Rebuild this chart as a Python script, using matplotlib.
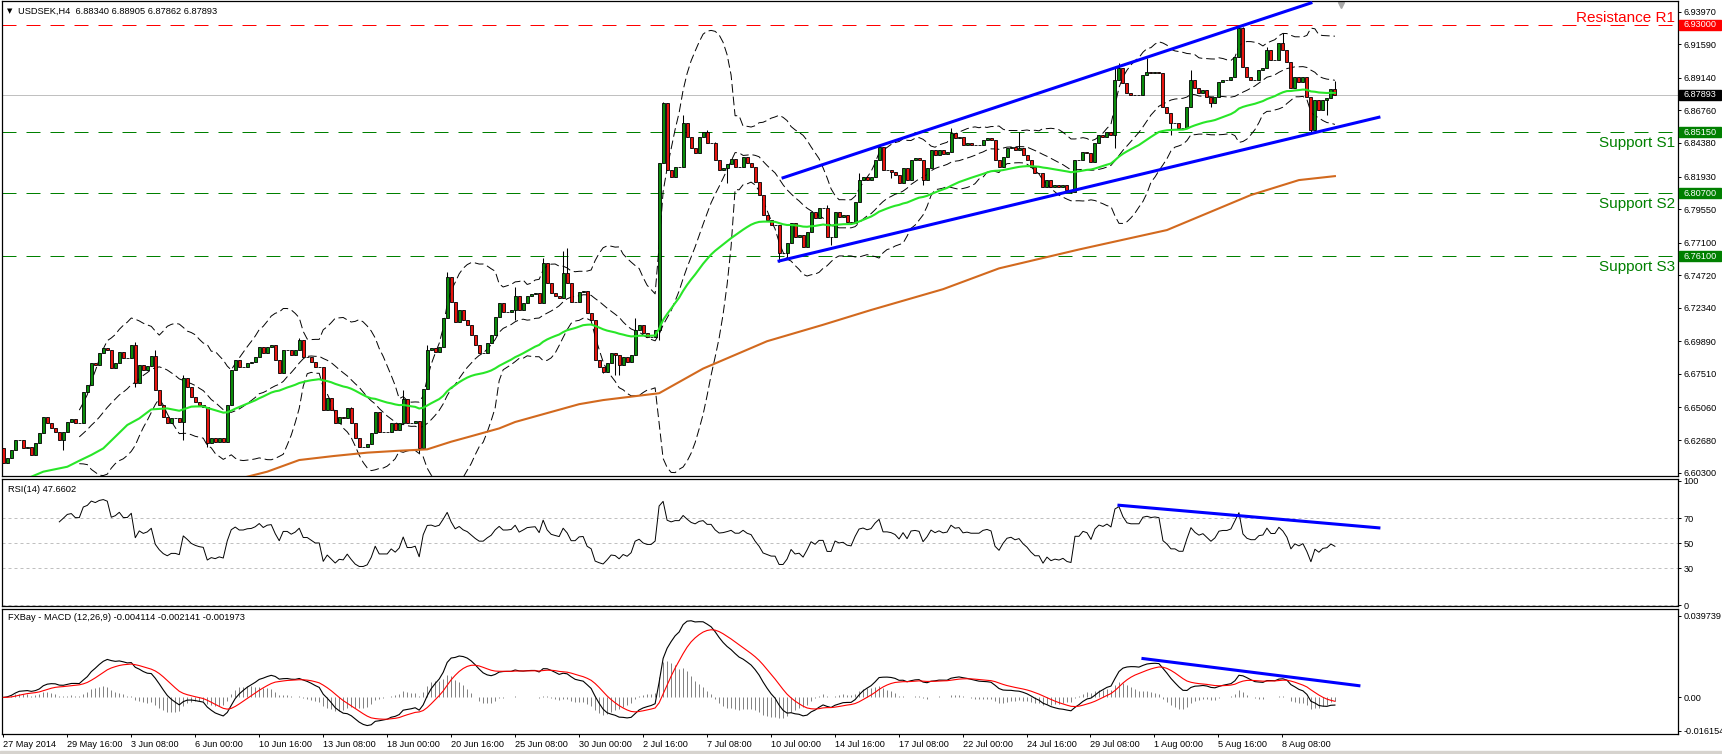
import numpy as np
import pandas as pd
import matplotlib
matplotlib.use("Agg")
import matplotlib.pyplot as plt
import matplotlib.transforms as mtransforms
from matplotlib.patches import Rectangle

plt.rcParams['font.family'] = ['Liberation Sans', 'DejaVu Sans']

# USDSEK H4 closes
closes = [
    6.6098, 6.6134, 6.6195, 6.6268, 6.6268, 6.6207, 6.6220, 6.6160, 6.6244, 6.6317,
    6.6439, 6.6390, 6.6353, 6.6329, 6.6268, 6.6329, 6.6402, 6.6419, 6.6390, 6.6390,
    6.6621, 6.6670, 6.6828, 6.6816, 6.6901, 6.6938, 6.6926, 6.6792, 6.6828, 6.6913,
    6.6865, 6.6865, 6.6962, 6.6682, 6.6816, 6.6780, 6.6809, 6.6882, 6.6633, 6.6524,
    6.6439, 6.6390, 6.6426, 6.6426, 6.6402, 6.6719, 6.6658, 6.6585, 6.6548, 6.6524,
    6.6512, 6.6244, 6.6280, 6.6256, 6.6280, 6.6256, 6.6524, 6.6779, 6.6853, 6.6804,
    6.6804, 6.6833, 6.6840, 6.6877, 6.6950, 6.6901, 6.6950, 6.6962, 6.6853, 6.6755,
    6.6926, 6.6926, 6.6889, 6.6926, 6.6999, 6.6877, 6.6877, 6.6840, 6.6804, 6.6804,
    6.6487, 6.6572, 6.6487, 6.6390, 6.6439, 6.6426, 6.6500, 6.6390, 6.6280, 6.6219,
    6.6219, 6.6237, 6.6322, 6.6475, 6.6329, 6.6329, 6.6329, 6.6395, 6.6341, 6.6395,
    6.6565, 6.6390, 6.6390, 6.6410, 6.6207, 6.6638, 6.6926, 6.6938, 6.6913, 6.6950,
    6.7157, 6.7461, 6.7279, 6.7132, 6.7218, 6.7145, 6.7108, 6.7035, 6.6962, 6.6901,
    6.6901, 6.6974, 6.7035, 6.7169, 6.7266, 6.7205, 6.7206, 6.7218, 6.7320, 6.7218,
    6.7266, 6.7320, 6.7332, 6.7340, 6.7266, 6.7559, 6.7413, 6.7340, 6.7320, 6.7303,
    6.7486, 6.7413, 6.7278, 6.7278, 6.7352, 6.7359, 6.7193, 6.7145, 6.6852, 6.6804,
    6.6767, 6.6828, 6.6901, 6.6889, 6.6816, 6.6877, 6.6840, 6.6889, 6.7072, 6.7108,
    6.7047, 6.7023, 6.7023, 6.7072, 6.8289, 6.8728, 6.8240, 6.8190, 6.8266, 6.8265,
    6.8581, 6.8484, 6.8399, 6.8362, 6.8484, 6.8520, 6.8435, 6.8435, 6.8314, 6.8240,
    6.8253, 6.8284, 6.8320, 6.8266, 6.8266, 6.8338, 6.8289, 6.8266, 6.8155, 6.8058,
    6.7912, 6.7875, 6.7840, 6.7838, 6.7632, 6.7632, 6.7705, 6.7851, 6.7754, 6.7766,
    6.7681, 6.7790, 6.7936, 6.7888, 6.7961, 6.7961, 6.7754, 6.7754, 6.7936, 6.7900,
    6.7912, 6.7863, 6.7851, 6.8010, 6.8168, 6.8192, 6.8168, 6.8192, 6.8314, 6.8411,
    6.8240, 6.8240, 6.8229, 6.8204, 6.8143, 6.8253, 6.8168, 6.8314, 6.8326, 6.8314,
    6.8168, 6.8253, 6.8387, 6.8350, 6.8387, 6.8360, 6.8374, 6.8508, 6.8472, 6.8484,
    6.8423, 6.8435, 6.8423, 6.8423, 6.8423, 6.8460, 6.8472, 6.8460, 6.8314, 6.8265,
    6.8338, 6.8399, 6.8411, 6.8386, 6.8399, 6.8350, 6.8314, 6.8260, 6.8216, 6.8216,
    6.8119, 6.8167, 6.8119, 6.8131, 6.8119, 6.8131, 6.8094, 6.8082, 6.8313, 6.8313,
    6.8374, 6.8362, 6.8301, 6.8435, 6.8496, 6.8484, 6.8520, 6.8496, 6.8898, 6.8983,
    6.8873, 6.8800, 6.8788, 6.8788, 6.8788, 6.8934, 6.8958, 6.8946, 6.8958, 6.8952,
    6.8703, 6.8654, 6.8581, 6.8581, 6.8545, 6.8545, 6.8703, 6.8898, 6.8837, 6.8800,
    6.8825, 6.8776, 6.8727, 6.8776, 6.8885, 6.8898, 6.8898, 6.8922, 6.9068, 6.9275,
    6.8995, 6.8922, 6.8898, 6.8898, 6.8971, 6.8983, 6.9117, 6.9044, 6.9044, 6.9166,
    6.9117, 6.9032, 6.8837, 6.8922, 6.8885, 6.8922, 6.8776, 6.8532, 6.8752, 6.8678,
    6.8752, 6.8764, 6.8834, 6.87893,
]
first_open = 6.6207
last_open = 6.88340

# wick ends that stand out on the chart (bar index -> price)
highs_seen = {33: 6.6986, 38: 6.6926, 45: 6.6743, 74: 6.7011, 87: 6.6512, 100: 6.6633,
              106: 6.6962, 111: 6.7498, 128: 6.7388, 135: 6.7595, 140: 6.7651, 141: 6.7668,
              158: 6.7157, 165: 6.8740, 170: 6.8642, 176: 6.8533, 178: 6.8448, 206: 6.7985,
              214: 6.8216, 219: 6.8423, 237: 6.8545, 254: 6.8520, 278: 6.8983, 279: 6.9020,
              286: 6.9056, 297: 6.8971, 309: 6.9287, 310: 6.9287, 316: 6.9141, 320: 6.9239,
              333: 6.88905}
lows_seen = {15: 6.6195, 33: 6.6658, 45: 6.6268, 51: 6.6219, 104: 6.6171, 128: 6.7145,
             150: 6.6755, 153: 6.6743, 154: 6.6743, 164: 6.6998, 181: 6.8143, 194: 6.7571,
             196: 6.7595, 207: 6.7693, 222: 6.8180, 230: 6.8131, 267: 6.8070, 278: 6.8398,
             292: 6.8496, 302: 6.8703, 327: 6.8520, 328: 6.8520, 331: 6.8642, 333: 6.87862}

# 200 MA read as points (the chart has no history for it); 50 EMA start read as points
ma200_bar = [61, 66, 74, 82.5, 91, 99, 106, 112, 116, 124, 128, 144, 150, 164, 175,
             191, 205, 217, 235, 249, 269, 291, 312, 324, 333]
ma200_val = [6.6000, 6.6037, 6.6122, 6.6151, 6.6176, 6.6190, 6.6200, 6.6256, 6.6288,
             6.6353, 6.6400, 6.6530, 6.6560, 6.6610, 6.6790, 6.6990, 6.7110, 6.7218,
             6.7370, 6.7522, 6.7660, 6.7802, 6.8058, 6.8167, 6.8196]
ma50_early_bar = [7, 10, 16, 19, 22, 25, 28, 31, 34, 37, 41, 44, 47]
ma50_early_val = [6.6000, 6.6037, 6.6073, 6.6117, 6.6159, 6.6207, 6.6292, 6.6378,
                  6.6426, 6.6492, 6.6499, 6.6482, 6.6512]

res_levels = [6.9300]
res_names = ["Resistance R1"]
sup_levels = [6.8515, 6.8070, 6.7610]
sup_names = ["Support S1", "Support S2", "Support S3"]

chan_top_bar, chan_top_val = [195, 327], [6.8184, 6.9461]
chan_bot_bar, chan_bot_val = [194, 344], [6.7576, 6.8626]
rsi_line_bar, rsi_line_val = [279, 344], [80.5, 62.3]
macd_line_bar, macd_line_val = [285, 339], [0.0189, 0.0057]

price_ticks = [6.93970, 6.91590, 6.89140, 6.86760, 6.84380, 6.81930, 6.79550, 6.77100,
               6.74720, 6.72340, 6.69890, 6.67510, 6.65060, 6.62680, 6.60300]
rsi_ticks = [100, 70, 50, 30, 0]
macd_ticks = [0.039739, 0.0, -0.016154]
macd_tick_labels = ["0.039739", "0.00", "-0.016154"]
date_labels = ["27 May 2014", "29 May 16:00", "3 Jun 08:00", "6 Jun 00:00", "10 Jun 16:00",
               "13 Jun 08:00", "18 Jun 00:00", "20 Jun 16:00", "25 Jun 08:00", "30 Jun 00:00",
               "2 Jul 16:00", "7 Jul 08:00", "10 Jul 00:00", "14 Jul 16:00", "17 Jul 08:00",
               "22 Jul 00:00", "24 Jul 16:00", "29 Jul 08:00", "1 Aug 00:00", "5 Aug 16:00",
               "8 Aug 08:00"]
bars_per_label = 16
rsi_text = "RSI(14) 47.6602"
macd_text = "FXBay - MACD (12,26,9) -0.004114 -0.002141 -0.001973"

# ---- build OHLC and indicators ----
c = np.array(closes)
n = len(c)
o = np.r_[first_open, c[:-1]]
o[-1] = last_open
h = np.maximum(o, c)
l = np.minimum(o, c)
for k, v in highs_seen.items():
    h[k] = max(h[k], v)
for k, v in lows_seen.items():
    l[k] = min(l[k], v)
x = np.arange(n)
s = pd.Series(c)

# Bollinger bands 20, 2
mid = s.rolling(20).mean()
sd = s.rolling(20).std(ddof=0)

# 50 EMA, carried on from the last read point
alpha = 2 / 51
ema_x = list(ma50_early_bar)
ema_y = list(ma50_early_val)
e = ma50_early_val[-1]
for i in range(ma50_early_bar[-1] + 1, n):
    e = e + alpha * (c[i] - e)
    ema_x.append(i)
    ema_y.append(e)

delta = s.diff()
gain = delta.clip(lower=0).ewm(alpha=1 / 14, adjust=False).mean()
loss = (-delta.clip(upper=0)).ewm(alpha=1 / 14, adjust=False).mean()
rsi = 100 - 100 / (1 + gain / loss)

macd = s.ewm(span=12, adjust=False).mean() - s.ewm(span=26, adjust=False).mean()
signal = macd.ewm(span=9, adjust=False).mean()
hist = macd - signal

# ---- layout (pixel boxes of the three panels) ----
W, H = 1722, 754
fig = plt.figure(figsize=(W / 100, H / 100), dpi=100)
fig.patch.set_facecolor("white")


def box(top, bottom):
    return [2 / W, 1 - bottom / H, 1676 / W, (bottom - top) / H]


ax1 = fig.add_axes(box(1, 476))
ax2 = fig.add_axes(box(479, 605.7), sharex=ax1)
ax3 = fig.add_axes(box(608.7, 734), sharex=ax1)

GREEN = "#0a8c0a"
RED = "#e8140e"
DASH = (0, (14, 10))
BB_DASH = (0, (9, 4))

# price panel
for v in res_levels:
    ax1.axhline(v, color="#ff0000", lw=0.72, ls=DASH, zorder=1)
for v in sup_levels:
    ax1.axhline(v, color="#008000", lw=0.72, ls=DASH, zorder=1)
ax1.axhline(c[-1], color="#c0c0c0", lw=0.72, zorder=1)

for band in (mid + 2 * sd, mid, mid - 2 * sd):
    ax1.plot(x, band, color="black", lw=0.7, ls=BB_DASH, zorder=2)

ax1.vlines(x, l, h, color="black", lw=0.75, zorder=3)
up = c >= o
ax1.bar(x[up], (c - o)[up], bottom=o[up], width=0.75, color=GREEN,
        edgecolor="black", linewidth=0.6, zorder=3)
ax1.bar(x[~up], (c - o)[~up], bottom=o[~up], width=0.75, color=RED,
        edgecolor="black", linewidth=0.6, zorder=3)

ax1.plot(ema_x, ema_y, color="#28e628", lw=1.5, zorder=4)
ax1.plot(ma200_bar, ma200_val, color="#d2691e", lw=1.5, zorder=4)

ax1.plot(chan_top_bar, chan_top_val, color="#0000ff", lw=2.2, zorder=5)
ax1.plot(chan_bot_bar, chan_bot_val, color="#0000ff", lw=2.2, zorder=5)

# RSI panel
for v in [70, 50, 30, 0]:
    ax2.axhline(v, color="#c0c0c0", lw=0.72, ls=(0, (3, 3)), zorder=1)
ax2.plot(x[14:], rsi[14:], color="black", lw=0.7, zorder=3)
ax2.plot(rsi_line_bar, rsi_line_val, color="#0000ff", lw=2.2, zorder=4)

# MACD panel
ax3.vlines(x, 0, hist, color="#808080", lw=0.7, zorder=1)
ax3.plot(x, macd, color="black", lw=0.8, zorder=3)
ax3.plot(x, signal, color="#ff0000", lw=0.8, zorder=3)
ax3.plot(macd_line_bar, macd_line_val, color="#0000ff", lw=2.2, zorder=4)

# axes, ticks
ax1.set_xlim(-0.33, 418.8)
ax1.set_ylim(6.60054, 6.94752)
ax2.set_ylim(-0.3, 101.6)
ax3.set_ylim(-0.01779, 0.04314)

for ax in (ax1, ax2, ax3):
    ax.set_facecolor("white")
    for sp in ax.spines.values():
        sp.set_linewidth(0.9)
        sp.set_color("black")
    ax.yaxis.tick_right()
    ax.tick_params(axis="y", direction="out", length=2.5, width=0.7, pad=1.5,
                   labelsize=6.6, colors="black")

ax1.set_yticks(price_ticks)
ax1.set_yticklabels([f"{v:.5f}" for v in price_ticks])
ax2.set_yticks(rsi_ticks)
ax2.set_yticklabels([str(v) for v in rsi_ticks])
ax3.set_yticks(macd_ticks)
ax3.set_yticklabels(macd_tick_labels)

tick_pos = [k * bars_per_label - 0.125 for k in range(len(date_labels))]
ax3.set_xticks(tick_pos)
ax3.set_xticklabels(date_labels)
ax3.tick_params(axis="x", direction="out", length=2.5, width=0.7, pad=1.5,
                labelsize=6.6, colors="black")
for lab in ax3.get_xticklabels():
    lab.set_horizontalalignment("left")
for ax in (ax1, ax2):
    ax.tick_params(axis="x", bottom=False, labelbottom=False)

# level names
trans_p = mtransforms.blended_transform_factory(fig.transFigure, ax1.transData)
for v, name in zip(res_levels, res_names):
    t = mtransforms.offset_copy(trans_p, fig=fig, y=3.3, units="dots")
    fig.text(1675 / W, v, name, transform=t, color="#ff0000", fontsize=11,
             ha="right", va="baseline")
for v, name in zip(sup_levels, sup_names):
    t = mtransforms.offset_copy(trans_p, fig=fig, y=-4, units="dots")
    fig.text(1675 / W, v, name, transform=t, color="#008000", fontsize=11,
             ha="right", va="top")


# coloured price tags on the right scale
def price_tag(ax, value, text, color):
    trans = mtransforms.blended_transform_factory(fig.transFigure, ax.transData)
    y0, y1 = ax.get_ylim()
    hgt = (y1 - y0) * 10 / (ax.get_position().height * H)
    fig.add_artist(Rectangle((1679 / W, value - hgt / 2), 42 / W, hgt,
                             transform=trans, color=color, zorder=5))
    fig.text(1683 / W, value, text, transform=trans, color="white", fontsize=6.6,
             ha="left", va="center", zorder=6)


for v in res_levels:
    price_tag(ax1, v, f"{v:.5f}", "#ff0000")
for v in sup_levels:
    price_tag(ax1, v, f"{v:.5f}", "#008000")
price_tag(ax1, c[-1], f"{c[-1]:.5f}", "black")

# panel headers
fig.text(7 / W, 1 - 11 / H, "\u25bc", fontsize=5, va="center", ha="left",
         family=["DejaVu Sans"])
fig.text(18 / W, 1 - 11 / H,
         f"USDSEK,H4  {o[-1]:.5f} {h[-1]:.5f} {l[-1]:.5f} {c[-1]:.5f}",
         fontsize=6.7, va="center", ha="left")
fig.text(8 / W, 1 - 489.5 / H, rsi_text, fontsize=6.7, va="center", ha="left")
fig.text(8 / W, 1 - 618 / H, macd_text, fontsize=6.7, va="center", ha="left")

# chart-shift marker and bottom strip
ax1.plot([n + 0.4], [1 - 4 / 475], transform=mtransforms.blended_transform_factory(
    ax1.transData, ax1.transAxes), marker="v", ms=5, color="#a8a8a8", clip_on=False)
fig.add_artist(Rectangle((0, 0), 1, 3 / H, transform=fig.transFigure,
                         color="#d6d3ce", zorder=0))

fig.savefig("out.png", dpi=100, facecolor="white")
